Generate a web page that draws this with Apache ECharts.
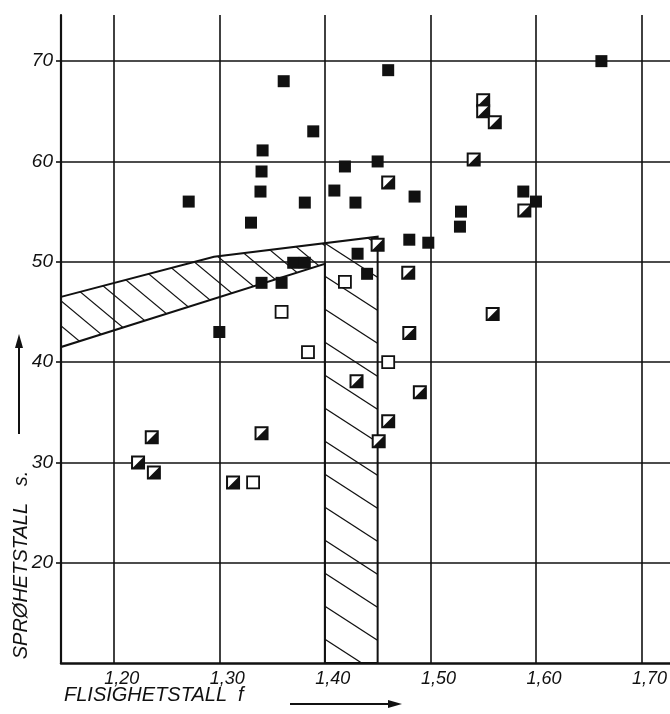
<!DOCTYPE html>
<html><head><meta charset="utf-8">
<script src="https://cdn.jsdelivr.net/npm/echarts@6/dist/echarts.min.js"></script>
<style>html,body{margin:0;padding:0;background:#fff}#c{width:670px;height:714px}</style>
</head><body><div id="c"></div>
<script>
// tick labels
const xTicks = [1.20, 1.30, 1.40, 1.50, 1.60, 1.70];
const yTicks = [20, 30, 40, 50, 60, 70];

// fully black squares: flisighetstall f, sprøhetstall s
const filledF = [1.662,1.361,1.460,1.389,1.341,1.340,1.339,1.271,1.381,1.330,1.419,1.450,1.409,1.429,1.485,1.588,1.600,1.529,1.528,1.480,1.498,1.431,1.370,1.381,1.340,1.359,1.440,1.300];
const filledS = [70.0,68.0,69.1,63.0,61.1,59.0,57.0,56.0,55.9,53.9,59.5,60.0,57.1,55.9,56.5,57.0,56.0,55.0,53.5,52.2,51.9,50.8,49.9,49.9,47.9,47.9,48.8,43.0];

// half-black squares
const halfF = [1.460,1.550,1.550,1.561,1.541,1.589,1.450,1.479,1.480,1.559,1.430,1.490,1.460,1.451,1.236,1.223,1.238,1.313,1.340];
const halfS = [57.9,66.1,65.0,63.9,60.2,55.1,51.7,48.9,42.9,44.8,38.1,37.0,34.1,32.1,32.5,30.0,29.0,28.0,32.9];

// open squares
const openF = [1.419,1.359,1.384,1.460,1.332];
const openS = [48.0,45.0,41.0,40.0,28.0];

// hatched zones
const bandF = [1.15,1.295,1.40,1.40,1.15];
const bandS = [46.5,50.5,51.9,49.8,41.5];
const colF = [1.40,1.40,1.45,1.45];
const colS = [10,51.9,52.5,10];
const outlineF = [1.15,1.295,1.45,1.45,1.40,1.40,1.15];
const outlineS = [46.5,50.5,52.5,10,10,49.8,41.5];

function hatchPattern(w, h, lw) {
  const c = document.createElement('canvas');
  c.width = w; c.height = h;
  const g = c.getContext('2d');
  g.strokeStyle = '#111'; g.lineWidth = lw;
  for (let k = -1; k <= 1; k++) {
    g.beginPath();
    g.moveTo(-w, -h + k * h);
    g.lineTo(2 * w, 2 * h + k * h);
    g.stroke();
  }
  return c;
}
const patBand = hatchPattern(30, 25, 1.2);
const patCol = hatchPattern(51, 33, 1.2);

function polySeries(fs, ss, style, z) {
  return {
    type: 'custom', coordinateSystem: 'cartesian2d', silent: true, z: z,
    data: [[fs[0], ss[0]]],
    renderItem: function (params, api) {
      return { type: 'polygon', shape: { points: fs.map((f, i) => api.coord([f, ss[i]])) }, style: style };
    }
  };
}
const zip = (a, b) => a.map((v, i) => [v, b[i]]);

const font = 'Liberation Sans';
const chart = echarts.init(document.getElementById('c'));
chart.setOption({
  animation: false,
  backgroundColor: '#fff',
  grid: { left: 61, right: 0, top: 15, bottom: 51, containLabel: false, outerBoundsMode: 'none' },
  xAxis: {
    type: 'value', min: 1.15, max: 1.727,
    axisLine: { show: true, lineStyle: { color: '#111', width: 2.5 } },
    axisTick: { show: false, customValues: xTicks },
    axisLabel: { customValues: xTicks, formatter: v => v.toFixed(2).replace('.', ','), fontStyle: 'italic', fontFamily: font, fontSize: 18, color: '#111', margin: 7, padding: [0, 0, 0, 16] },
    splitLine: { show: true, lineStyle: { color: '#111', width: 1.6 } }
  },
  yAxis: {
    type: 'value', min: 10, max: 74.6, interval: 10,
    axisLine: { show: true, lineStyle: { color: '#111', width: 2.2 } },
    axisTick: { show: true, customValues: yTicks, length: 5, lineStyle: { color: '#111', width: 1.6 } },
    axisLabel: { customValues: yTicks, fontStyle: 'italic', fontFamily: font, fontSize: 19, color: '#111', margin: 8 },
    splitLine: { show: true, lineStyle: { color: '#111', width: 1.6 } }
  },
  series: [
    polySeries(bandF, bandS, { fill: { image: patBand, repeat: 'repeat' }, stroke: null }, 1),
    polySeries(colF, colS, { fill: { image: patCol, repeat: 'repeat' }, stroke: null }, 1),
    polySeries(outlineF, outlineS, { fill: null, stroke: '#111', lineWidth: 2 }, 2),
    { type: 'scatter', data: zip(filledF, filledS), symbol: 'rect', symbolSize: 12, itemStyle: { color: '#111', opacity: 1 }, z: 5, silent: true },
    { type: 'scatter', data: zip(halfF, halfS), symbol: 'rect', symbolSize: 12, itemStyle: { color: '#fff', borderColor: '#111', borderWidth: 2, opacity: 1 }, z: 5, silent: true },
    { type: 'scatter', data: zip(halfF, halfS), symbol: 'path://M10,0 L10,10 L0,10 Z', symbolSize: 12, itemStyle: { color: '#111', opacity: 1 }, z: 6, silent: true },
    { type: 'scatter', data: zip(openF, openS), symbol: 'rect', symbolSize: 12, itemStyle: { color: '#fff', borderColor: '#111', borderWidth: 1.8, opacity: 1 }, z: 5, silent: true }
  ],
  graphic: [
    { type: 'text', left: 64, top: 685, style: { text: 'FLISIGHETSTALL  f', font: 'italic 20px ' + font, fill: '#111' } },
    { type: 'line', shape: { x1: 290, y1: 704, x2: 392, y2: 704 }, style: { stroke: '#111', lineWidth: 2 } },
    { type: 'polygon', shape: { points: [[402, 704], [388, 700], [388, 708]] }, style: { fill: '#111' } },
    { type: 'text', x: 21, y: 565, rotation: Math.PI / 2, style: { text: 'SPRØHETSTALL   s.', font: 'italic 20px ' + font, fill: '#111', align: 'center', verticalAlign: 'middle' } },
    { type: 'line', shape: { x1: 19, y1: 434, x2: 19, y2: 345 }, style: { stroke: '#111', lineWidth: 2 } },
    { type: 'polygon', shape: { points: [[19, 334], [15, 348], [23, 348]] }, style: { fill: '#111' } }
  ]
});
</script></body></html>
